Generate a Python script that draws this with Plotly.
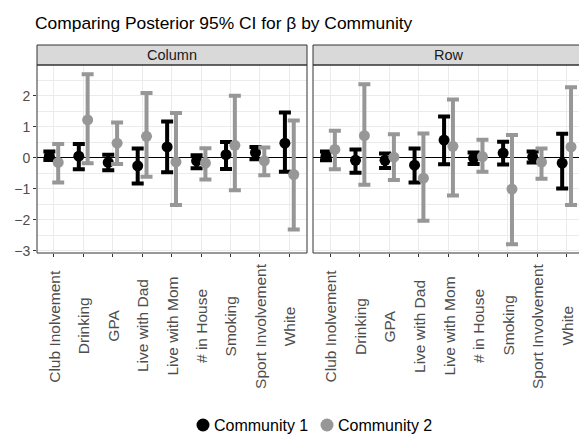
import plotly.graph_objects as go

categories = ["Club Inolvement", "Drinking", "GPA", "Live with Dad", "Live with Mom",
              "# in House", "Smoking", "Sport Involvement", "White"]
panels = ["Column", "Row"]
communities = ["Community 1", "Community 2"]

# Column panel
col_c1_mean  = [0.05, 0.05, -0.15, -0.26, 0.35, -0.10, 0.10, 0.17, 0.47]
col_c1_lower = [-0.07, -0.37, -0.40, -0.83, -0.47, -0.34, -0.36, -0.05, -0.45]
col_c1_upper = [0.20, 0.44, 0.10, 0.30, 1.17, 0.08, 0.51, 0.35, 1.46]
col_c2_mean  = [-0.15, 1.22, 0.47, 0.69, -0.13, -0.17, 0.40, -0.10, -0.54]
col_c2_lower = [-0.80, -0.18, -0.20, -0.61, -1.52, -0.70, -1.05, -0.56, -2.31]
col_c2_upper = [0.44, 2.69, 1.14, 2.09, 1.44, 0.31, 2.00, 0.33, 1.20]

# Row panel
row_c1_mean  = [0.05, -0.08, -0.08, -0.24, 0.57, -0.01, 0.15, 0.03, -0.17]
row_c1_lower = [-0.08, -0.48, -0.33, -0.80, -0.21, -0.20, -0.22, -0.15, -0.99]
row_c1_upper = [0.20, 0.27, 0.14, 0.30, 1.33, 0.17, 0.52, 0.20, 0.77]
row_c2_mean  = [0.27, 0.71, 0.02, -0.66, 0.37, 0.04, -1.01, -0.14, 0.35]
row_c2_lower = [-0.37, -0.87, -0.72, -2.03, -1.22, -0.45, -2.79, -0.68, -1.52]
row_c2_upper = [0.87, 2.37, 0.76, 0.78, 1.88, 0.58, 0.73, 0.30, 2.27]

y_ticks = [-3, -2, -1, 0, 1, 2]

colors = ["#000000", "#979797"]
dodge = [-0.15, 0.15]
FONT = "Liberation Sans, Arial, sans-serif"

data = {
    "Column": [(col_c1_mean, col_c1_lower, col_c1_upper), (col_c2_mean, col_c2_lower, col_c2_upper)],
    "Row": [(row_c1_mean, row_c1_lower, row_c1_upper), (row_c2_mean, row_c2_lower, row_c2_upper)],
}

fig = go.Figure()
axes = {"Column": ("x", "y"), "Row": ("x2", "y2")}
for p in panels:
    xa, ya = axes[p]
    for k, (m, lo, hi) in enumerate(data[p]):
        xs = [i + dodge[k] for i in range(len(categories))]
        fig.add_trace(go.Scatter(
            x=xs, y=m, mode="markers", xaxis=xa, yaxis=ya, name=communities[k],
            marker=dict(color=colors[k], size=11),
            error_y=dict(type="data", symmetric=False,
                         array=[h - v for h, v in zip(hi, m)],
                         arrayminus=[v - l for v, l in zip(m, lo)],
                         color=colors[k], thickness=4, width=6),
            showlegend=False, hoverinfo="skip"))

L = 37
W = 579 - L
PB = 441 - 188  # plot bottom in px
d1 = [0, (307 - L) / W]
d2 = [(313 - L) / W, 1]

xcommon = dict(tickmode="array", tickvals=list(range(len(categories))), ticktext=categories,
               showticklabels=False,
               ticks="outside", ticklen=3, tickcolor="#333333", tickwidth=1,
               showgrid=True, gridcolor="#EBEBEB", gridwidth=1.1, zeroline=False,
               showline=False)
ycommon = dict(range=[-3.07, 2.99], tickmode="array", tickvals=y_ticks,
               ticklen=3, tickcolor="#333333", tickwidth=1,
               showgrid=True, gridcolor="#EBEBEB", gridwidth=1.1,
               minor=dict(dtick=0.5, tick0=0, showgrid=True, gridcolor="#EBEBEB", gridwidth=0.6, ticks=""),
               zeroline=True, zerolinecolor="#000000", zerolinewidth=1,
               showline=False, tickfont=dict(family=FONT, size=14, color="#4D4D4D"))

fig.update_layout(
    width=579, height=441,
    margin=dict(l=L, r=0, t=65, b=188),
    plot_bgcolor="white", paper_bgcolor="white",
    showlegend=False,
    xaxis=dict(domain=d1, range=[-0.57, 8.6], anchor="y", **xcommon),
    xaxis2=dict(domain=d2, range=[-0.59, 8.42], anchor="y2", **xcommon),
    yaxis=dict(domain=[0, 1], anchor="x", ticks="outside", **ycommon),
    yaxis2=dict(domain=[0, 1], anchor="x2", matches="y", showticklabels=False, ticks="", **ycommon),
    title=dict(text="Comparing Posterior 95% CI for β by Community",
               x=35 / 579, xanchor="left", xref="container",
               y=1 - 23 / 441, yanchor="middle", yref="container",
               font=dict(family=FONT, size=17.4, color="#000000")),
)

# category labels, rotated and vertically centred like ggplot's angle=90 text
label_y = (PB - 326) / 188
for xa in ["x", "x2"]:
    for i, c in enumerate(categories):
        fig.add_annotation(text=c, x=i, xref=xa, y=label_y, yref="paper", textangle=-90,
                           showarrow=False, xanchor="center", yanchor="middle",
                           font=dict(family=FONT, size=15.5, color="#4D4D4D"))

# facet strips and panel borders
strip_h = 20 / 188
for p, d in zip(panels, [d1, [d2[0], 1.05]]):
    fig.add_shape(type="rect", xref="paper", yref="paper", x0=d[0], x1=d[1], y0=1, y1=1 + strip_h,
                  fillcolor="#D9D9D9", line=dict(color="#333333", width=1), layer="above")
    fig.add_shape(type="rect", xref="paper", yref="paper", x0=d[0], x1=d[1], y0=0, y1=1,
                  fillcolor="rgba(0,0,0,0)", line=dict(color="#333333", width=1), layer="above")
    fig.add_annotation(text=p, xref="paper", yref="paper",
                       x=(d[0] + min(d[1], (584 - L) / W)) / 2, y=1 + strip_h / 2,
                       showarrow=False, xanchor="center", yanchor="middle",
                       font=dict(family=FONT, size=14.5, color="#1A1A1A"))

# legend (ggplot style: key dot right next to label)
leg_y = (PB - 425) / 188
key_x = [203, 327]
for k, name in enumerate(communities):
    xp = (key_x[k] - L) / W
    fig.add_shape(type="circle", xref="paper", yref="paper", xsizemode="pixel", ysizemode="pixel",
                  xanchor=xp, yanchor=leg_y, x0=-6.5, x1=6.5, y0=-6.5, y1=6.5,
                  fillcolor=colors[k], line=dict(width=0))
    fig.add_annotation(text=name, xref="paper", yref="paper", x=(key_x[k] + 9 - L) / W, y=leg_y,
                       showarrow=False, xanchor="left", yanchor="middle",
                       font=dict(family=FONT, size=16, color="#000000"))

fig.write_html("out.html")
